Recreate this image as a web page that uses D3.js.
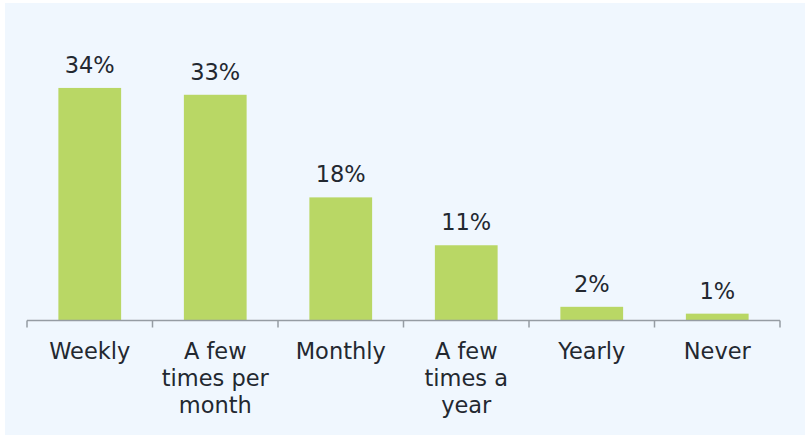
<!DOCTYPE html>
<html><head><meta charset="utf-8">
<script src="https://cdn.jsdelivr.net/npm/d3@7"></script>
<style>
html,body{margin:0;padding:0;background:#fff;}
svg{display:block;}
</style></head>
<body>
<script>
const categories = ["Weekly", "A few times per month", "Monthly", "A few times a year", "Yearly", "Never"];
const categoryLines = [["Weekly"], ["A few", "times per", "month"], ["Monthly"], ["A few", "times a", "year"], ["Yearly"], ["Never"]];
const values = [34, 33, 18, 11, 2, 1];
const valueLabels = ["34%", "33%", "18%", "11%", "2%", "1%"];

const W = 805, H = 435;
const svg = d3.select("body").append("svg").attr("width", W).attr("height", H);
svg.append("rect").attr("x", 5).attr("y", 3).attr("width", W - 5).attr("height", H - 3).attr("fill", "#f0f7fe");

const axisY = 320.5;
const x = d3.scaleBand().domain(categories).range([27, 780]).paddingInner(0.5).paddingOuter(0.25);
const y = d3.scaleLinear().domain([0, 40]).range([axisY, axisY - 40 * 6.84]);

const font = "'DejaVu Sans', Verdana, sans-serif";
const textColor = "#232830";
const fs = 22.5;

svg.selectAll("rect.bar").data(values).join("rect")
  .attr("class", "bar")
  .attr("x", (d, i) => x(categories[i]))
  .attr("width", x.bandwidth())
  .attr("y", d => y(d))
  .attr("height", d => axisY - y(d))
  .attr("fill", "#b9d765");

svg.selectAll("text.val").data(values).join("text")
  .attr("class", "val")
  .attr("x", (d, i) => x(categories[i]) + x.bandwidth() / 2)
  .attr("y", d => y(d) - 15)
  .attr("text-anchor", "middle")
  .attr("font-family", font).attr("font-size", fs)
  .attr("fill", textColor)
  .text((d, i) => valueLabels[i]);

// axis
const axisG = svg.append("g");
axisG.append("line").attr("x1", 27).attr("x2", 780).attr("y1", axisY).attr("y2", axisY)
  .attr("stroke", "#969ca3").attr("stroke-width", 1.5);
const boundaries = d3.range(categories.length + 1).map(i => 27 + i * (753 / categories.length));
axisG.selectAll("line.tick").data(boundaries).join("line")
  .attr("class", "tick")
  .attr("x1", d => d).attr("x2", d => d)
  .attr("y1", axisY).attr("y2", axisY + 7)
  .attr("stroke", "#969ca3").attr("stroke-width", 1.5);

const labels = svg.selectAll("text.cat").data(categories).join("text")
  .attr("class", "cat")
  .attr("text-anchor", "middle")
  .attr("font-family", font).attr("font-size", fs)
  .attr("fill", textColor);
labels.each(function(d, i) {
  const t = d3.select(this);
  const cx = x(d) + x.bandwidth() / 2;
  categoryLines[i].forEach((ln, j) => {
    t.append("tspan").attr("x", cx).attr("y", axisY + 38.5 + j * 27).text(ln);
  });
});
</script>
</body></html>
